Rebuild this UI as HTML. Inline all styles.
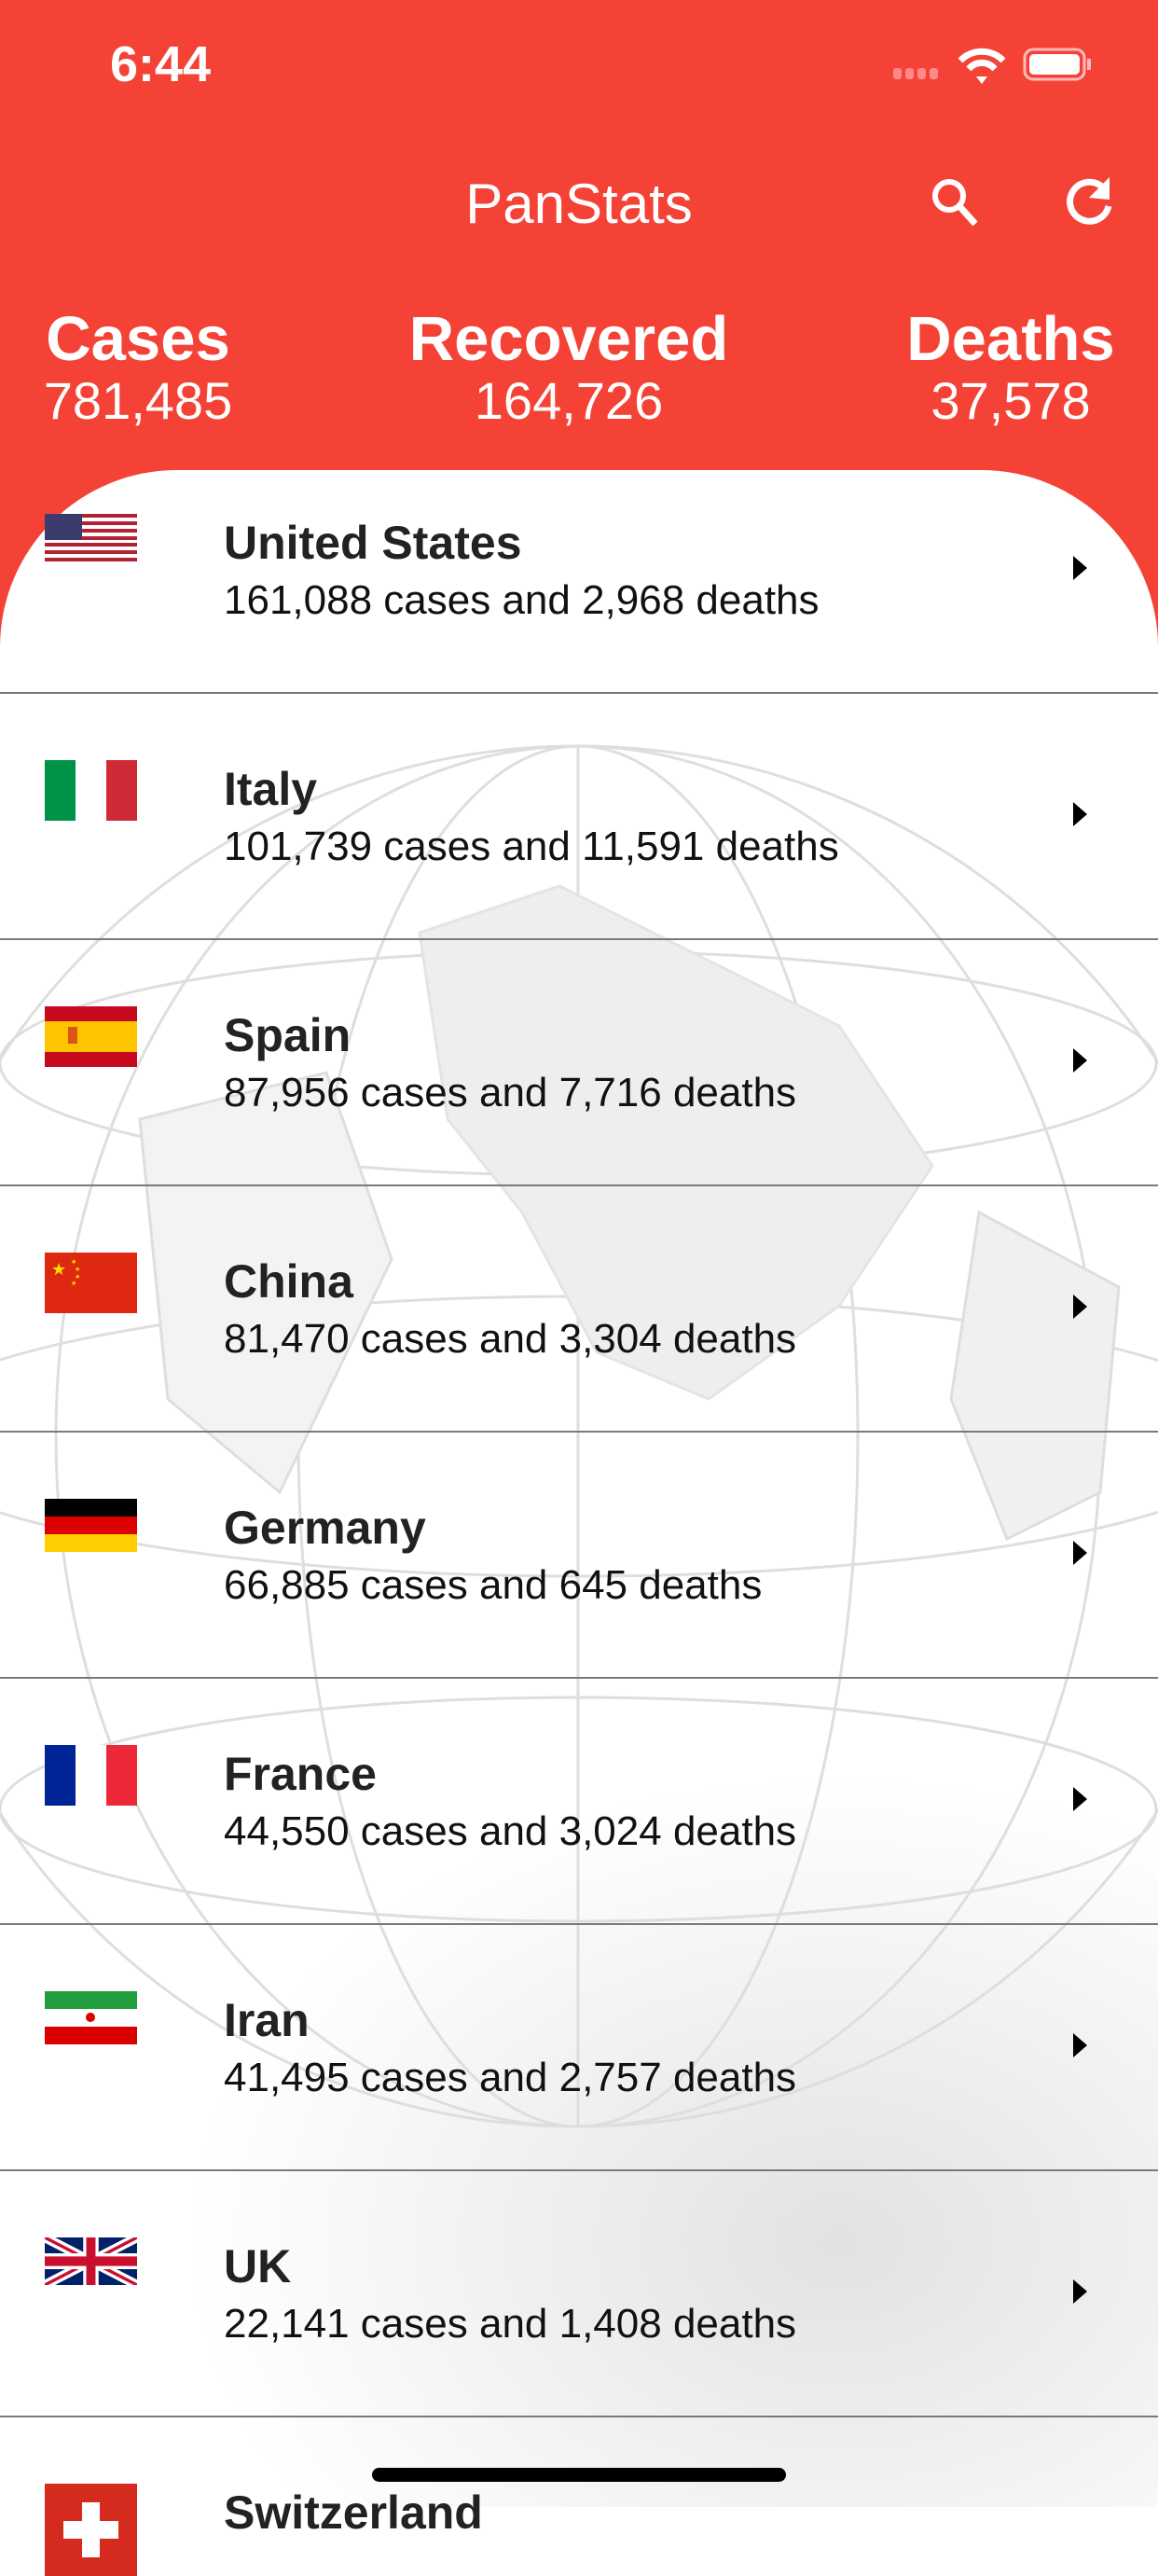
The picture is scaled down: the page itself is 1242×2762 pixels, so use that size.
<!DOCTYPE html>
<html><head><meta charset="utf-8"><style>
body{margin:0;width:1242px;height:2688px;overflow:hidden;position:relative;background:#fff;font-family:"Liberation Sans",sans-serif}
.abs{position:absolute}
.hdr{left:0;top:0;width:1242px;height:760px;background:#F44336}
.card{left:0;top:504px;width:1242px;height:2184px;border-radius:190px 190px 0 0;overflow:hidden;background:radial-gradient(ellipse 700px 500px at 900px 1900px,#e2e2e2,#fff 100%)}
.w{color:#fff}
.stat{text-align:center;width:400px}
.sh{font-weight:bold;font-size:67px;line-height:67px}
.sn{font-size:56px;line-height:56px}
.sep{left:0;width:1242px;height:2px;background:#7a7a7a}
.t{left:240px;font-weight:bold;font-size:50px;color:#222;line-height:50px}
.s{left:240px;font-size:44px;color:#111;line-height:44px}
.flag{left:48px;width:99px;height:51px;overflow:hidden}
.arr{left:1151px;width:0;height:0;border-top:13px solid transparent;border-bottom:13px solid transparent;border-left:15px solid #000}
</style></head><body>
<div class="abs hdr"></div>
<div class="abs w" style="left:118px;top:38px;font-size:54px;font-weight:bold">6:44</div>
<svg class="abs" style="left:955px;top:45px" width="230" height="50">
<g fill="#f88"><rect x="3" y="28" width="9" height="12" rx="3"/><rect x="16" y="28" width="9" height="12" rx="3"/><rect x="29" y="28" width="9" height="12" rx="3"/><rect x="42" y="28" width="9" height="12" rx="3"/></g>
<path d="M75 20 a32 32 0 0 1 46 0" stroke="#fff" stroke-width="7" fill="none"/><path d="M84 29 a18 18 0 0 1 28 0" stroke="#fff" stroke-width="7" fill="none"/><path d="M92 37 l6 8 l6 -8z" fill="#fff"/>
<rect x="144" y="8" width="64" height="32" rx="9" fill="none" stroke="#fbb" stroke-width="3"/><rect x="149" y="13" width="54" height="22" rx="5" fill="#fff"/><rect x="211" y="18" width="4" height="12" fill="#fbb"/>
</svg>
<div class="abs w" style="left:0;width:1242px;text-align:center;top:186px;font-size:60px;line-height:66px">PanStats</div>
<svg class="abs" style="left:996px;top:188px" width="56" height="56"><circle cx="22" cy="22" r="15" stroke="#fff" stroke-width="6" fill="none"/><line x1="33" y1="33" x2="50" y2="52" stroke="#fff" stroke-width="7"/></svg>
<svg class="abs" style="left:1142px;top:188px" width="56" height="56"><path d="M42 14 A21 21 0 1 0 47 33" stroke="#fff" stroke-width="7" fill="none"/><path d="M48 2 L48 26 L26 24z" fill="#fff"/></svg>
<div class="abs w stat" style="left:-52px;top:330px"><div class="sh">Cases</div><div class="sn" style="margin-top:5px">781,485</div></div>
<div class="abs w stat" style="left:410px;top:330px"><div class="sh">Recovered</div><div class="sn" style="margin-top:5px">164,726</div></div>
<div class="abs w stat" style="left:884px;top:330px"><div class="sh">Deaths</div><div class="sn" style="margin-top:5px">37,578</div></div>
<div class="abs card">
<svg width="1242" height="2184" style="display:block">
<g transform="translate(0,-504)" fill="none" stroke="#dedede" stroke-width="3">
<circle cx="620" cy="1540" r="740"/>
<ellipse cx="620" cy="1540" rx="300" ry="740"/><ellipse cx="620" cy="1540" rx="560" ry="740"/><line x1="620" y1="800" x2="620" y2="2280"/>
<ellipse cx="620" cy="1540" rx="740" ry="150"/><ellipse cx="620" cy="1140" rx="620" ry="120"/><ellipse cx="620" cy="1940" rx="620" ry="120"/>
<path d="M450 1000 L600 950 L780 1040 L900 1100 L1000 1250 L900 1400 L760 1500 L640 1450 L560 1300 L480 1200z" fill="#eee" stroke="#e4e4e4"/>
<path d="M1050 1300 L1200 1380 L1180 1600 L1080 1650 L1020 1500z" fill="#f0f0f0"/>
<path d="M150 1200 L350 1150 L420 1350 L300 1600 L180 1500z" fill="#f3f3f3"/>
</g></svg></div>
<div class="abs sep" style="top:742px"></div>
<div class="abs sep" style="top:1006px"></div>
<div class="abs sep" style="top:1270px"></div>
<div class="abs sep" style="top:1534px"></div>
<div class="abs sep" style="top:1798px"></div>
<div class="abs sep" style="top:2062px"></div>
<div class="abs sep" style="top:2326px"></div>
<div class="abs sep" style="top:2590px"></div>

<div>
<svg class="abs flag" style="top:551px" viewBox="0 0 99 51"><rect width="99" height="51" fill="#fff"/><g fill="#b22234"><rect y="0" width="99" height="4"/><rect y="8" width="99" height="4"/><rect y="16" width="99" height="4"/><rect y="24" width="99" height="4"/><rect y="31" width="99" height="4"/><rect y="39" width="99" height="4"/><rect y="47" width="99" height="4"/></g><rect width="40" height="28" fill="#3c3b6e"/></svg>
<div class="abs t" style="top:557px">United States</div><div class="abs s" style="top:622px">161,088 cases and 2,968 deaths</div><div class="abs arr" style="top:596px"></div></div>

<div>
<svg class="abs flag" style="top:815px;height:65px" viewBox="0 0 99 65"><rect width="33" height="65" fill="#009246"/><rect x="33" width="33" height="65" fill="#fff"/><rect x="66" width="33" height="65" fill="#ce2b37"/></svg>
<div class="abs t" style="top:821px">Italy</div><div class="abs s" style="top:886px">101,739 cases and 11,591 deaths</div><div class="abs arr" style="top:860px"></div></div>

<div>
<svg class="abs flag" style="top:1079px;height:65px" viewBox="0 0 99 65"><rect width="99" height="65" fill="#c60b1e"/><rect y="16" width="99" height="33" fill="#ffc400"/><rect x="25" y="22" width="10" height="18" fill="#c60b1e" opacity="0.6"/></svg>
<div class="abs t" style="top:1085px">Spain</div><div class="abs s" style="top:1150px">87,956 cases and 7,716 deaths</div><div class="abs arr" style="top:1124px"></div></div>

<div>
<svg class="abs flag" style="top:1343px;height:65px" viewBox="0 0 99 65"><rect width="99" height="65" fill="#de2910"/><text x="7" y="24" font-size="18" fill="#ffde00">★</text><text x="28" y="12" font-size="7" fill="#ffde00">★</text><text x="32" y="20" font-size="7" fill="#ffde00">★</text><text x="32" y="28" font-size="7" fill="#ffde00">★</text><text x="28" y="35" font-size="7" fill="#ffde00">★</text></svg>
<div class="abs t" style="top:1349px">China</div><div class="abs s" style="top:1414px">81,470 cases and 3,304 deaths</div><div class="abs arr" style="top:1388px"></div></div>

<div>
<svg class="abs flag" style="top:1607px;height:57px" viewBox="0 0 99 57"><rect width="99" height="19" fill="#000"/><rect y="19" width="99" height="19" fill="#dd0000"/><rect y="38" width="99" height="19" fill="#ffce00"/></svg>
<div class="abs t" style="top:1613px">Germany</div><div class="abs s" style="top:1678px">66,885 cases and 645 deaths</div><div class="abs arr" style="top:1652px"></div></div>

<div>
<svg class="abs flag" style="top:1871px;height:65px" viewBox="0 0 99 65"><rect width="33" height="65" fill="#002395"/><rect x="33" width="33" height="65" fill="#fff"/><rect x="66" width="33" height="65" fill="#ed2939"/></svg>
<div class="abs t" style="top:1877px">France</div><div class="abs s" style="top:1942px">44,550 cases and 3,024 deaths</div><div class="abs arr" style="top:1916px"></div></div>

<div>
<svg class="abs flag" style="top:2135px;height:57px" viewBox="0 0 99 57"><rect width="99" height="19" fill="#239f40"/><rect y="19" width="99" height="19" fill="#fff"/><rect y="38" width="99" height="19" fill="#da0000"/><circle cx="49" cy="28" r="5" fill="#da0000"/></svg>
<div class="abs t" style="top:2141px">Iran</div><div class="abs s" style="top:2206px">41,495 cases and 2,757 deaths</div><div class="abs arr" style="top:2180px"></div></div>

<div>
<svg class="abs flag" style="top:2399px" viewBox="0 0 60 30" preserveAspectRatio="none"><rect width="60" height="30" fill="#012169"/><path d="M0 0L60 30M60 0L0 30" stroke="#fff" stroke-width="6"/><path d="M0 0L60 30M60 0L0 30" stroke="#c8102e" stroke-width="2"/><path d="M30 0v30M0 15h60" stroke="#fff" stroke-width="10"/><path d="M30 0v30M0 15h60" stroke="#c8102e" stroke-width="6"/></svg>
<div class="abs t" style="top:2405px">UK</div><div class="abs s" style="top:2470px">22,141 cases and 1,408 deaths</div><div class="abs arr" style="top:2444px"></div></div>

<div>
<svg class="abs flag" style="top:2663px;width:99px;height:99px" viewBox="0 0 99 99"><rect width="99" height="99" fill="#d52b1e"/><rect x="40" y="20" width="19" height="59" fill="#fff"/><rect x="20" y="40" width="59" height="19" fill="#fff"/></svg>
<div class="abs t" style="top:2669px">Switzerland</div></div>

<div class="abs" style="left:399px;top:2646px;width:444px;height:15px;border-radius:8px;background:#000"></div>
</body></html>
